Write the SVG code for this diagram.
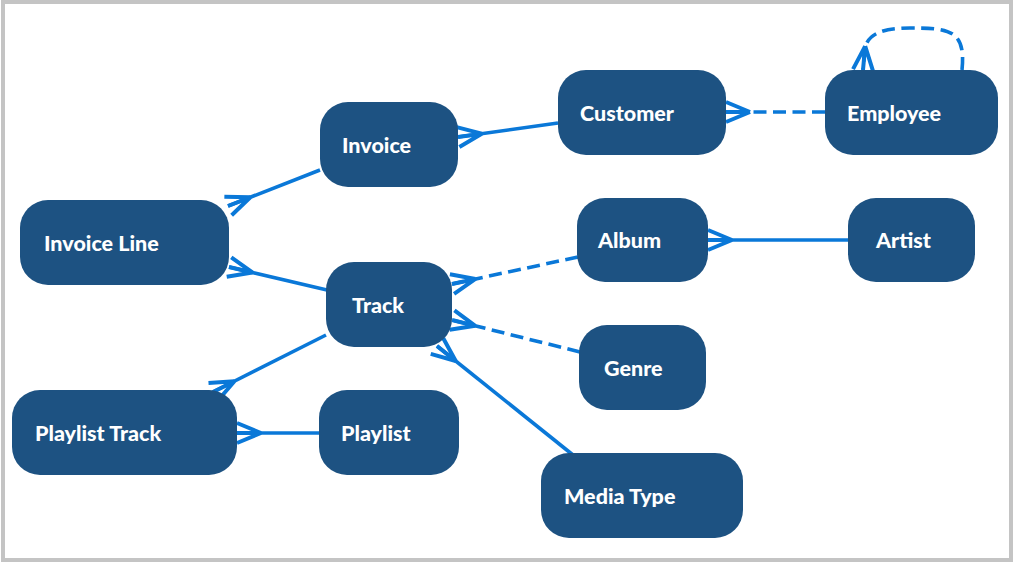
<svg xmlns="http://www.w3.org/2000/svg" width="1014" height="563" viewBox="0 0 1014 563">
<style>
.node rect{fill:#1d5282;}
.node text{fill:#ffffff;font-family:Lato,"Liberation Sans",sans-serif;font-weight:900;font-size:21.5px;}
.edge{fill:none;stroke:#0a78d8;stroke-width:3.6;marker-end:url(#crow);}
.dash{stroke-dasharray:13 6.5;}
</style>
<defs>
<marker id="crow" markerUnits="userSpaceOnUse" orient="auto" refX="0" refY="0" markerWidth="60" markerHeight="60" overflow="visible">
<path d="M-24,0 L0,-10 M-24,0 L0,0 M-24,0 L0,10" fill="none" stroke="#0a78d8" stroke-width="4"/>
</marker>
</defs>
<rect x="3" y="2" width="1008" height="558" fill="#ffffff" stroke="#c4c4c4" stroke-width="4"/>
<g id="connectors">
<path class="edge" d="M320,170 L228,206"/>
<path class="edge" d="M327,290 L229,267"/>
<path class="edge" d="M558,123 L458,137"/>
<path class="edge dash" d="M825,112 L726,112"/>
<path class="edge dash" d="M962,70 C966,30 950,28 910,28 C880,28 868,35 865,48 L863,70"/>
<path class="edge dash" d="M578,257 L452,284"/>
<path class="edge dash" d="M580,352 L452,320"/>
<path class="edge" d="M573,455 L437,346"/>
<path class="edge" d="M326,335 L213,392"/>
<path class="edge" d="M319,433 L237,433"/>
<path class="edge" d="M848,240 L708,240"/>
</g>
<g id="invoice-line" class="node"><rect x="20" y="200" width="209" height="85" rx="28"/><text x="44" y="251">Invoice Line</text></g>
<g id="invoice" class="node"><rect x="320" y="102" width="138" height="85" rx="28"/><text x="342" y="153">Invoice</text></g>
<g id="customer" class="node"><rect x="558" y="70" width="168" height="85" rx="28"/><text x="580" y="121">Customer</text></g>
<g id="employee" class="node"><rect x="825" y="70" width="173" height="85" rx="28"/><text x="847" y="121">Employee</text></g>
<g id="album" class="node"><rect x="577" y="198" width="131" height="84" rx="28"/><text x="598" y="248">Album</text></g>
<g id="artist" class="node"><rect x="848" y="198" width="127" height="84" rx="28"/><text x="876" y="248">Artist</text></g>
<g id="track" class="node"><rect x="326" y="262" width="126" height="85" rx="28"/><text x="352" y="313">Track</text></g>
<g id="genre" class="node"><rect x="579" y="325" width="127" height="85" rx="28"/><text x="604" y="376">Genre</text></g>
<g id="playlist-track" class="node"><rect x="12" y="390" width="225" height="85" rx="28"/><text x="35" y="441">Playlist Track</text></g>
<g id="playlist" class="node"><rect x="319" y="390" width="140" height="85" rx="28"/><text x="341" y="441">Playlist</text></g>
<g id="media-type" class="node"><rect x="541" y="453" width="202" height="85" rx="28"/><text x="564" y="504">Media Type</text></g>
</svg>
